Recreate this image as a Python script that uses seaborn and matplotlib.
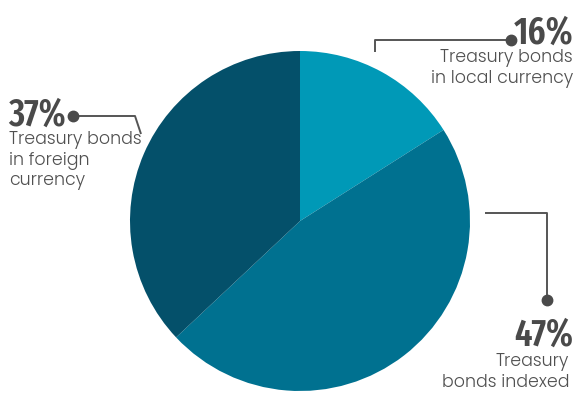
import matplotlib
matplotlib.use("Agg")
import matplotlib.pyplot as plt
import seaborn as sns

sns.set_theme(style="white")
plt.rcParams["font.family"] = ["Poppins", "Open Sans", "DejaVu Sans"]

# Share of debt by instrument (clockwise from 12 o'clock)
shares = [16, 47, 37]
pcts = ["16%", "47%", "37%"]
labels = ["Treasury bonds\nin local currency",
          "Treasury\nbonds indexed",
          "Treasury bonds\nin foreign\ncurrency"]
colors = ["#0099b7", "#007190", "#04506a"]

W, H = 577, 416
fig = plt.figure(figsize=(W / 100, H / 100), dpi=100)
ax = fig.add_axes([0, 0, 1, 1])


def y(v):
    # pixel rows counted from the top
    return H - v


ax.pie(shares, colors=colors, startangle=90, counterclock=False,
       center=(300, y(221)), radius=170, frame=True,
       wedgeprops=dict(linewidth=0))
ax.set_xlim(0, W)
ax.set_ylim(0, H)
ax.axis("off")

line_kw = dict(color="#555555", lw=1.4, solid_capstyle="butt")
dot_kw = dict(color="#4a4a4a", marker="o", ms=7.5, zorder=5)
pct_kw = dict(family=["Fira Sans Extra Condensed", "Barlow Condensed", "DejaVu Sans"],
              weight=600, fontsize=27, color="#4a4a4a")
lab_kw = dict(fontsize=12.5, weight=300, color="#505050", linespacing=1.2)

# 16% callout
ax.plot([375, 375, 511], [y(52), y(40), y(40)], **line_kw)
ax.plot([511], [y(40)], **dot_kw)
ax.text(573, y(44), pcts[0], ha="right", va="baseline", **pct_kw)
ax.text(573, y(49), labels[0], ha="right", va="top", **lab_kw)

# 47% callout
ax.plot([485, 547, 547], [y(213), y(213), y(300)], **line_kw)
ax.plot([547], [y(300)], **dot_kw)
ax.text(573, y(346), pcts[1], ha="right", va="baseline", **pct_kw)
ax.text(569, y(353), labels[1], ha="right", va="top", **lab_kw)

# 37% callout
ax.plot([73, 135, 141], [y(116), y(116), y(134)], **line_kw)
ax.plot([73], [y(116)], **dot_kw)
ax.text(8, y(126), pcts[2], ha="left", va="baseline", **pct_kw)
ax.text(9, y(131), labels[2], ha="left", va="top", **lab_kw)

fig.savefig("out.png", dpi=100)
